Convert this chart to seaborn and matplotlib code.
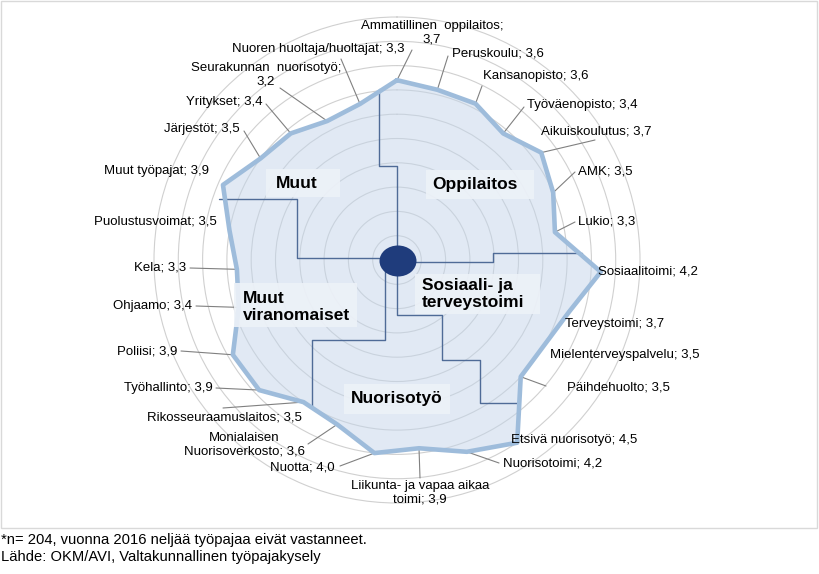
import numpy as np
import matplotlib
matplotlib.use("Agg")
import matplotlib.pyplot as plt
import matplotlib.transforms as mtransforms
from matplotlib.patches import Rectangle, Ellipse
import pandas as pd
import seaborn as sns

# ---------------- data ----------------
categories = [
    "Ammatillinen oppilaitos", "Peruskoulu", "Kansanopisto", "Työväenopisto",
    "Aikuiskoulutus", "AMK", "Lukio", "Sosiaalitoimi", "Terveystoimi",
    "Mielenterveyspalvelu", "Päihdehuolto", "Etsivä nuorisotyö", "Nuorisotoimi",
    "Liikunta- ja vapaa aikaa toimi", "Nuotta", "Monialaisen Nuorisoverkosto",
    "Rikosseuraamuslaitos", "Työhallinto", "Poliisi", "Ohjaamo", "Kela",
    "Puolustusvoimat", "Muut työpajat", "Järjestöt", "Yritykset",
    "Seurakunnan nuorisotyö", "Nuoren huoltaja/huoltajat",
]
values = [3.7, 3.6, 3.6, 3.4, 3.7, 3.5, 3.3, 4.2, 3.7, 3.5, 3.5, 4.5, 4.2,
          3.9, 4.0, 3.6, 3.5, 3.9, 3.9, 3.4, 3.3, 3.5, 3.9, 3.5, 3.4, 3.2, 3.3]
# where a data label wraps onto a second line
wrap_at = {
    "Ammatillinen oppilaitos": "Ammatillinen  oppilaitos;\n{v}",
    "Liikunta- ja vapaa aikaa toimi": "Liikunta- ja vapaa aikaa\ntoimi; {v}",
    "Monialaisen Nuorisoverkosto": "Monialaisen\nNuorisoverkosto; {v}",
    "Seurakunnan nuorisotyö": "Seurakunnan  nuorisotyö;\n{v}",
}
group_names = ["Oppilaitos", "Muut", "Sosiaali- ja\nterveystoimi",
               "Muut\nviranomaiset", "Nuorisotyö"]
footnotes = ["*n= 204, vuonna 2016 neljää työpajaa eivät vastanneet.",
             "Lähde: OKM/AVI, Valtakunnallinen työpajakysely"]

# ---------------- layout (image pixels) ----------------
W, H = 819, 574
CX, CY, R = 397, 260, 243          # radar centre and radius of value 5
RMAX = 5

# label anchor (x, y, ha) and leader-line start (or None)
label_layout = [
    (432, 33, "center", (412, 50)),
    (452, 53, "left", (448, 56)),
    (483, 76, "left", (482, 86)),
    (527, 105, "left", (524, 107)),
    (541, 131, "left", (595, 140)),
    (578, 171, "left", (575, 172)),
    (578, 221, "left", (575, 222)),
    (598, 272, "left", None),
    (565, 324, "left", None),
    (550, 355, "left", None),
    (567, 387, "left", (546, 386)),
    (511, 440, "left", None),
    (503, 463, "left", (499, 463)),
    (420, 493, "center", (420, 478)),
    (335, 467, "right", (340, 466)),
    (244, 445, "center", (308, 444)),
    (302, 418, "right", (223, 408)),
    (213, 388, "right", (216, 388)),
    (177, 351, "right", (181, 351)),
    (192, 306, "right", (196, 306)),
    (186, 268, "right", (190, 268)),
    (217, 221, "right", None),
    (209, 171, "right", None),
    (240, 129, "right", (244, 131)),
    (263, 102, "right", (266, 104)),
    (266, 75, "center", (280, 88)),
    (404, 49, "right", (341, 59)),
]
# group boxes: (x0, y0, w, h), text anchor (x, y, ha)
group_boxes = [
    ((426, 170, 108, 29), (475, 184, "center")),
    ((266, 169, 74, 28), (297, 183, "center")),
    ((415, 274, 125, 40), (422, 294, "left")),
    ((234, 283, 123, 44), (243, 307, "left")),
    ((344, 384, 106, 30), (397, 398, "center")),
]
dividers = [
    [(379, 89), (379, 166), (397, 166), (397, 258)],
    [(219, 199), (297, 199), (297, 258), (385, 258)],
    [(385, 262), (385, 340), (312, 340), (312, 406)],
    [(397, 262), (397, 315), (442, 315), (442, 360), (480, 360), (480, 403), (517, 403)],
    [(398, 262), (493, 262), (493, 253), (582, 253)],
]

# ---------------- drawing ----------------
sns.set_theme(style="white")
plt.rcParams["font.family"] = ["Liberation Sans", "DejaVu Sans"]

fig = plt.figure(figsize=(W / 100, H / 100), dpi=100)
fig.patch.set_facecolor("white")
ax = fig.add_axes([(CX - R) / W, (H - CY - R) / H, 2 * R / W, 2 * R / H],
                  projection="polar")
px = mtransforms.Affine2D().scale(1 / W, -1 / H).translate(0, 1) + fig.transFigure

n = len(categories)
theta = np.linspace(0, 2 * np.pi, n, endpoint=False)
df = pd.DataFrame({"theta": np.append(theta, theta[0]),
                   "value": values + values[:1]})

ax.set_theta_zero_location("N")
ax.set_theta_direction(-1)
ax.fill(df["theta"], df["value"], color="#c4d5ea", alpha=0.5, lw=0, zorder=1)
sns.lineplot(data=df, x="theta", y="value", sort=False, estimator=None,
             color="#9ebcdb", lw=3.3, ax=ax, zorder=4, legend=False)

ax.set_ylim(0, RMAX)
ax.set_rgrids(np.arange(0.5, RMAX, 0.5))
ax.set_yticklabels([])
ax.set_xticks([])
ax.yaxis.grid(True, color="#d0d0d0", lw=0.8)
ax.xaxis.grid(False)
ax.spines["polar"].set_color("#d0d0d0")
ax.spines["polar"].set_linewidth(0.8)
ax.set_xlabel("")
ax.set_ylabel("")

# dividers
for seg in dividers:
    xs, ys = zip(*seg)
    ax.plot(xs, ys, transform=px, color="#4f6b97", lw=1.0, zorder=3,
            clip_on=False)

# data labels and leader lines
for cat, v, th, (lx, ly, ha, lead) in zip(categories, values, theta, label_layout):
    vs = f"{v:.1f}".replace(".", ",")
    txt = wrap_at[cat].format(v=vs) if cat in wrap_at else f"{cat}; {vs}"
    ax.text(lx, ly, txt, transform=px, ha=ha, va="center", fontsize=9.5,
            color="black", multialignment="center", zorder=7, clip_on=False)
    if lead is not None:
        ax.annotate("", xy=(th, v), xycoords="data", xytext=lead,
                    textcoords=px,
                    arrowprops=dict(arrowstyle="-", color="#808080", lw=0.8,
                                    shrinkA=0, shrinkB=0),
                    zorder=3.5, annotation_clip=False)

# group boxes
for name, ((bx, by, bw, bh), (tx, ty, tha)) in zip(group_names, group_boxes):
    ax.add_patch(Rectangle((bx, by), bw, bh, transform=px, facecolor="#edf2f8",
                           edgecolor="none", alpha=0.9, zorder=5, clip_on=False))
    ax.text(tx, ty, name, transform=px, ha=tha, va="center", fontsize=12.5,
            fontweight="bold", color="black", linespacing=1.15, zorder=6,
            clip_on=False)

# centre disc
ax.add_patch(Ellipse((398, 261), 37, 31, transform=px, facecolor="#1f3c7c",
                     edgecolor="none", zorder=6, clip_on=False))

# chart frame
ax.add_patch(Rectangle((0.5, 0.5), 816, 527, transform=px, fill=False,
                       edgecolor="#d9d9d9", lw=1, zorder=0, clip_on=False))

# footnotes
for i, t in enumerate(footnotes):
    ax.text(1, 540 + 17 * i, t, transform=px, ha="left", va="center",
            fontsize=10.6, color="black", clip_on=False)

fig.savefig("out.png", dpi=100)
